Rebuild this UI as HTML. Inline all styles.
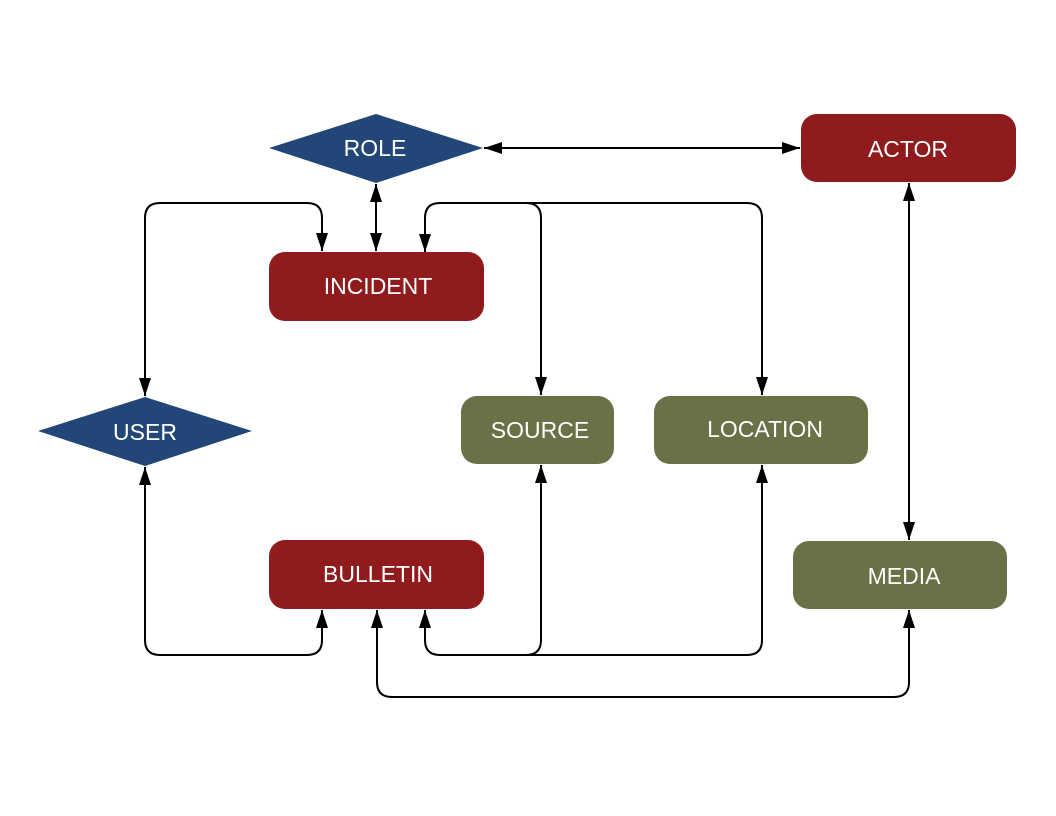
<!DOCTYPE html>
<html><head><meta charset="utf-8"><style>
html,body{margin:0;padding:0;background:#fff;}
svg{display:block;}
text{font-family:"Liberation Sans",sans-serif;font-size:23px;fill:#fff;text-anchor:middle;dominant-baseline:central;}
</style></head><body>
<svg width="1056" height="816" viewBox="0 0 1056 816">
<defs>
<marker id="a" markerWidth="18" markerHeight="12" refX="18" refY="6" orient="auto-start-reverse" markerUnits="userSpaceOnUse">
<path d="M0,0 L18,6 L0,12 z" fill="#000"/></marker>
</defs>
<g stroke="#000" stroke-width="2" fill="none">
<path d="M484,148 L800,148" marker-start="url(#a)" marker-end="url(#a)"/>
<path d="M376,184 L376,251" marker-start="url(#a)" marker-end="url(#a)"/>
<path d="M145,396 L145,218 Q145,203 160,203 L307,203 Q322,203 322,218 L322,251" marker-start="url(#a)" marker-end="url(#a)"/>
<path d="M425,252 L425,218 Q425,203 440,203 L526,203 Q541,203 541,218 L541,395" marker-start="url(#a)" marker-end="url(#a)"/>
<path d="M526,203 L747,203 Q762,203 762,218 L762,395" marker-end="url(#a)"/>
<path d="M145,467 L145,640 Q145,655 160,655 L307,655 Q322,655 322,640 L322,610" marker-start="url(#a)" marker-end="url(#a)"/>
<path d="M425,610 L425,640 Q425,655 440,655 L526,655 Q541,655 541,640 L541,465" marker-start="url(#a)" marker-end="url(#a)"/>
<path d="M526,655 L747,655 Q762,655 762,640 L762,465" marker-end="url(#a)"/>
<path d="M377,610 L377,682 Q377,697 392,697 L894,697 Q909,697 909,682 L909,610" marker-start="url(#a)" marker-end="url(#a)"/>
<path d="M909,183 L909,540" marker-start="url(#a)" marker-end="url(#a)"/>
</g>
<polygon points="269,148 376,114 483,148 376,183" fill="#214677"/>
<text x="375" y="148">ROLE</text>
<polygon points="38,431 145,397 252,431 145,466" fill="#214677"/>
<text x="145" y="432">USER</text>
<rect x="801" y="114" width="215" height="68" rx="16" fill="#8f1b1d"/>
<text x="908" y="149">ACTOR</text>
<rect x="269" y="252" width="215" height="69" rx="16" fill="#8f1b1d"/>
<text x="378" y="286">INCIDENT</text>
<rect x="461" y="396" width="153" height="68" rx="16" fill="#6b7046"/>
<text x="540" y="430">SOURCE</text>
<rect x="654" y="396" width="214" height="68" rx="16" fill="#6b7046"/>
<text x="765" y="429">LOCATION</text>
<rect x="269" y="540" width="215" height="69" rx="16" fill="#8f1b1d"/>
<text x="378" y="574">BULLETIN</text>
<rect x="793" y="541" width="214" height="68" rx="16" fill="#6b7046"/>
<text x="904" y="576">MEDIA</text>
</svg>
</body></html>
